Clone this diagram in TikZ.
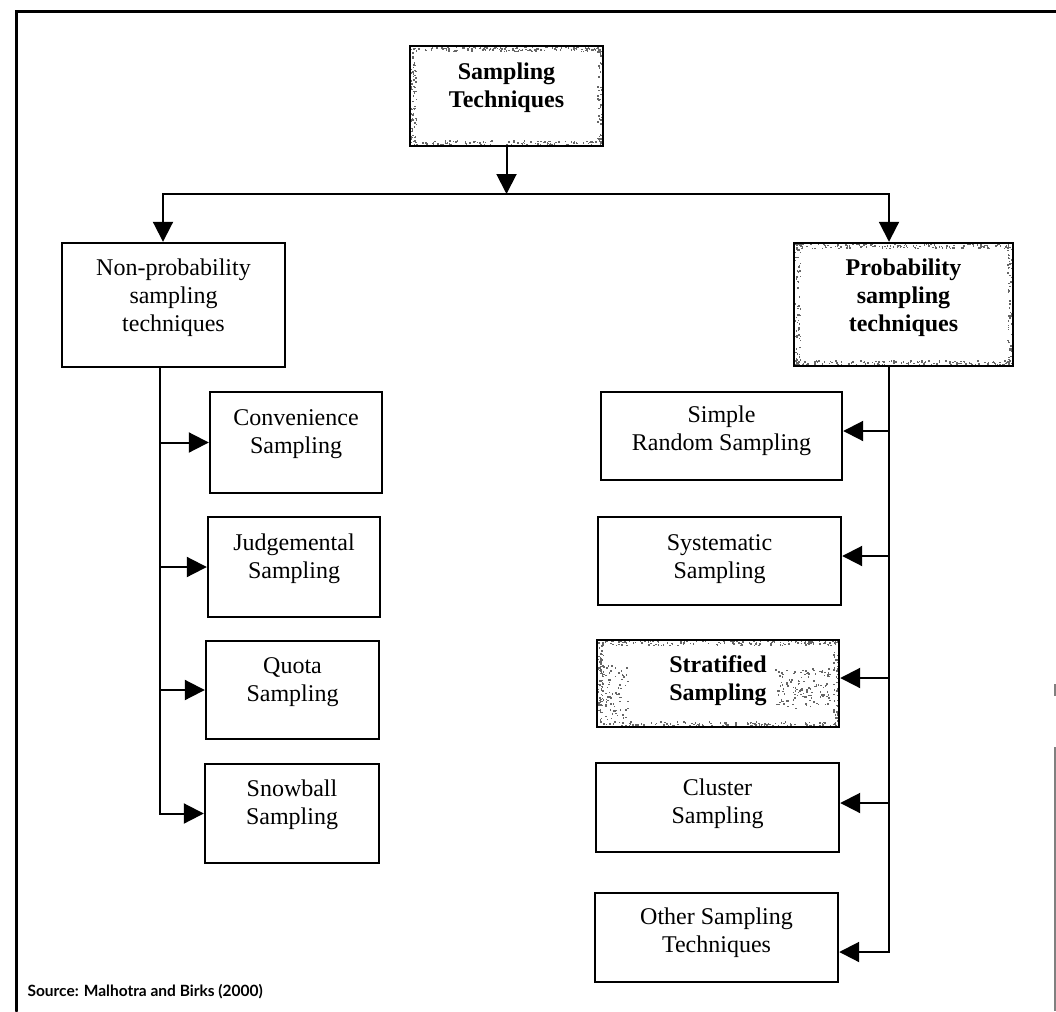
\documentclass[tikz,border=0pt]{standalone}
\usepackage{fontspec}
\setmainfont{Liberation Serif}
\newfontfamily\srcfont{Lato}
\usetikzlibrary{arrows.meta}

% two or three centred lines; the optional argument adds room below them
\newcommand\boxlines[2][14pt]{\begin{tabular}{@{}c@{}}#2\\[#1]\end{tabular}}

% grainy speckle inside a band: left, top, width, height, number of specks
\newcommand\speckband[5]{%
  \foreach \k in {1,...,#5}{%
    \pgfmathsetmacro\px{#1+rnd*(#3)}%
    \pgfmathsetmacro\py{#2+rnd*(#4)}%
    \fill[speck] (\px,\py) rectangle ++(1.5,1.5);}}
% speckled rim of a highlighted box: left, top, right, bottom
\newcommand\speckrim[4]{%
  \speckband{#1}{#2}{#3-#1}{5}{140}%
  \speckband{#1}{#4-6}{#3-#1}{6}{160}%
  \speckband{#1}{#2}{6}{#4-#2}{70}%
  \speckband{#3-6}{#2}{6}{#4-#2}{70}}

\tikzset{
  box/.style={draw, line width=2.4pt, inner sep=0pt,
    font=\fontsize{24}{28}\selectfont},
  keybox/.style={box, font=\fontsize{24}{28}\selectfont\bfseries},
  link/.style={line width=2pt},
  tip/.style={-{Triangle[length=20pt,width=20pt]}},
  frame/.style={line width=3pt, line cap=round},
  speck/.style={fill=black!60},
}

\begin{document}
\begin{tikzpicture}[x=1pt,y=-1pt]
\useasboundingbox (0,0) rectangle (1056,1011);
\pgfmathsetseed{4217}

% outer frame
\draw[frame] (16,1011) -- (16,12) -- (1056,12);
\draw[line width=1.2pt, gray] (1055,747) -- (1055,1011);
\draw[line width=1.2pt, gray] (1055,684) -- (1055,696);

% grain on the highlighted boxes
\speckrim{410}{46}{603}{146}
\speckrim{794}{243}{1013}{366}
\speckrim{597}{640}{839}{727}
\speckband{600}{665}{28}{55}{80}
\speckband{775}{668}{55}{40}{130}

% boxes
\node[keybox, minimum width=193pt, minimum height=100pt] (st) at (506.5,96)
  {\boxlines[17pt]{Sampling\\Techniques}};

\node[box, minimum width=223pt, minimum height=124pt] (np) at (173.5,305)
  {\boxlines{Non-probability\\sampling\\techniques}};
\node[box, minimum width=172pt, minimum height=101pt] (conv) at (296,442.5)
  {\boxlines[18pt]{Convenience\\Sampling}};
\node[box, minimum width=172pt, minimum height=100pt] (judg) at (294,567)
  {\boxlines[17pt]{Judgemental\\Sampling}};
\node[box, minimum width=173pt, minimum height=98pt] (quota) at (292.5,690)
  {\boxlines[16pt]{Quota\\Sampling}};
\node[box, minimum width=174pt, minimum height=99pt] (snow) at (292,813.5)
  {\boxlines[17pt]{Snowball\\Sampling}};

\node[keybox, minimum width=219pt, minimum height=123pt] (pr) at (903.5,304.5)
  {\boxlines[13pt]{Probability\\sampling\\techniques}};
\node[box, minimum width=241pt, minimum height=88pt] (srs) at (721.5,436)
  {\boxlines[10pt]{Simple\\Random Sampling}};
\node[box, minimum width=243pt, minimum height=88pt] (sys) at (719.5,561)
  {\boxlines[4pt]{Systematic\\Sampling}};
\node[keybox, minimum width=242pt, minimum height=87pt] (strat) at (718,683.5)
  {\boxlines[5pt]{Stratified\\Sampling}};
\node[box, minimum width=243pt, minimum height=89pt] (clus) at (717.5,807.5)
  {\boxlines[7pt]{Cluster\\Sampling}};
\node[box, minimum width=243pt, minimum height=89pt] (other) at (716.5,937.5)
  {\boxlines[10pt]{Other Sampling\\Techniques}};

% top split
\coordinate (hub) at (506.5,194);
\draw[link, tip] (st.south) -- (hub);
\draw[link, tip] (hub) -| ([xshift=-10.5pt]np.north);
\draw[link, tip] (hub) -| ([xshift=-14.5pt]pr.north);

% non-probability branch
\coordinate (tl) at ([xshift=-13.5pt]np.south);
\draw[link, tip] (tl) |- (snow.west);
\foreach \b in {conv, judg, quota}
  \draw[link, tip] (tl |- \b.west) -- (\b.west);

% probability branch
\coordinate (tr) at ([xshift=-14.5pt]pr.south);
\draw[link, tip] (tr) |- ([yshift=-14.5pt]other.east);
\foreach \b/\s in {srs/5pt, sys/5pt, strat/5.5pt, clus/4.5pt}
  \draw[link, tip] ([yshift=\s]\b.east -| tr) -- ([yshift=\s]\b.east);

% source line
\node[anchor=west, font=\srcfont\bfseries\fontsize{15.5}{18}\selectfont] (src)
  at (24,992) {Source: Malhotra and Birks (2000)};
\end{tikzpicture}
\end{document}
